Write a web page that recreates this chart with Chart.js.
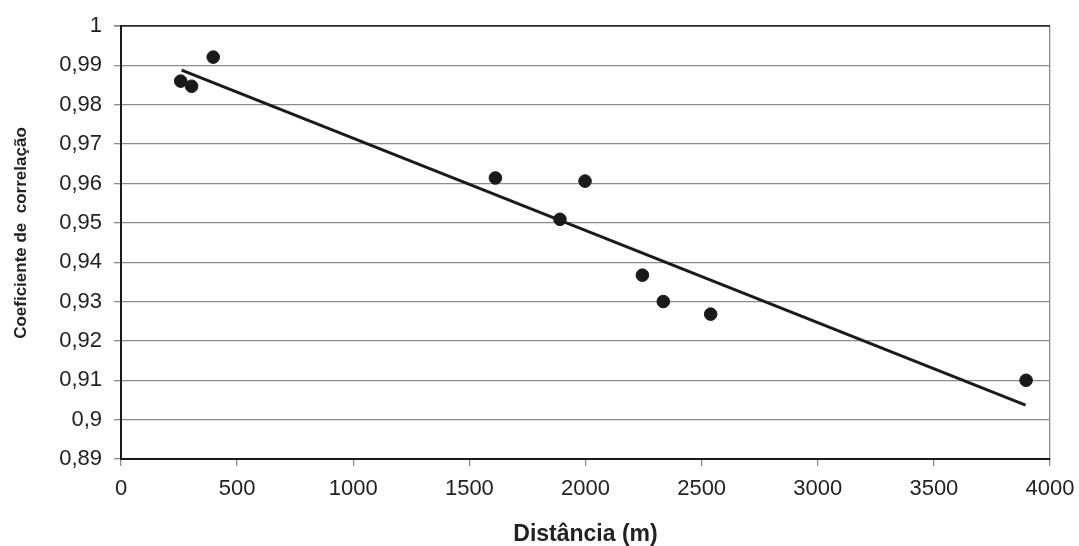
<!DOCTYPE html>
<html>
<head>
<meta charset="utf-8">
<script src="https://cdn.jsdelivr.net/npm/chart.js@4/dist/chart.umd.min.js"></script>
<style>
  html, body { margin: 0; padding: 0; background: #fff; }
  #wrap { width: 1079px; height: 546px; position: relative; }
</style>
</head>
<body>
<div id="wrap"><canvas id="chart"></canvas></div>
<script>
// dados
const distancias = [257, 304, 397, 1612, 1890, 1998, 2245, 2335, 2539, 3897];
const coeficientes = [0.9860, 0.9847, 0.9921, 0.9614, 0.9509, 0.9606, 0.9367, 0.9300, 0.9268, 0.9100];

// linha de tendência (extremos)
const tendenciaX = [261, 3895];
const tendenciaY = [0.9888, 0.9037];

// eixos
const xTicks = [0, 500, 1000, 1500, 2000, 2500, 3000, 3500, 4000];
const yMin = 0.89, yMax = 1, yStep = 0.01;

const textColor = '#222';
const gridGray = '#8c8c8c';

function fmtNum(v) {
  return String(Number(v.toFixed(2))).replace('.', ',');
}

new Chart(document.getElementById('chart'), {
  type: 'scatter',
  data: {
    datasets: [
      {
        label: 'pontos',
        data: distancias.map((d, i) => ({ x: d, y: coeficientes[i] })),
        backgroundColor: '#1a1a1a',
        borderColor: '#1a1a1a',
        pointRadius: 6.3,
        pointHoverRadius: 6.3
      },
      {
        label: 'tendência',
        type: 'line',
        data: tendenciaX.map((d, i) => ({ x: d, y: tendenciaY[i] })),
        borderColor: '#1a1a1a',
        borderWidth: 3,
        pointRadius: 0,
        fill: false
      }
    ]
  },
  options: {
    responsive: true,
    maintainAspectRatio: false,
    animation: false,
    layout: { padding: { left: 0, right: 29, top: 26, bottom: 0 } },
    plugins: { legend: { display: false }, tooltip: { enabled: false } },
    scales: {
      x: {
        type: 'linear',
        min: 0,
        max: 4000,
        afterBuildTicks: s => { s.ticks = xTicks.map(v => ({ value: v })); },
        afterFit: s => { s.height = 87; s.paddingLeft = 0; s.paddingRight = 0; },
        border: { color: '#1a1a1a', width: 2 },
        grid: {
          drawOnChartArea: true,
          color: c => (c.tick && c.tick.value === 4000) ? gridGray : 'rgba(0,0,0,0)',
          tickColor: gridGray,
          tickLength: 7,
          lineWidth: 1.3
        },
        ticks: {
          color: textColor,
          font: { family: 'Liberation Sans', size: 22 },
          padding: 10,
          maxRotation: 0,
          callback: v => String(v)
        },
        title: {
          display: true,
          text: 'Distância (m)',
          color: textColor,
          font: { family: 'Liberation Sans', size: 23, weight: 'bold', lineHeight: 1 },
          padding: { top: 0, bottom: 0 }
        }
      },
      y: {
        min: yMin,
        max: yMax,
        afterBuildTicks: s => {
          const t = [];
          for (let i = 0; i <= Math.round((yMax - yMin) / yStep); i++) {
            t.push({ value: Number((yMin + i * yStep).toFixed(2)) });
          }
          s.ticks = t;
        },
        afterFit: s => { s.width = 121; },
        border: { color: '#1a1a1a', width: 2 },
        grid: {
          color: c => (c.tick && c.tick.value === 1) ? '#2a2a2a' : gridGray,
          lineWidth: c => (c.tick && c.tick.value === 1) ? 1.8 : 1.3,
          tickColor: gridGray,
          tickLength: 7
        },
        ticks: {
          color: textColor,
          font: { family: 'Liberation Sans', size: 22 },
          padding: 12,
          callback: v => fmtNum(v)
        },
        title: {
          display: true,
          // espaços à esquerda para subir o título como no original
          text: '    Coeficiente de  correlação',
          color: textColor,
          font: { family: 'Liberation Sans', size: 17, weight: 'bold', lineHeight: 1.2 },
          padding: { top: 11, bottom: 0 }
        }
      }
    }
  }
});
</script>
</body>
</html>
